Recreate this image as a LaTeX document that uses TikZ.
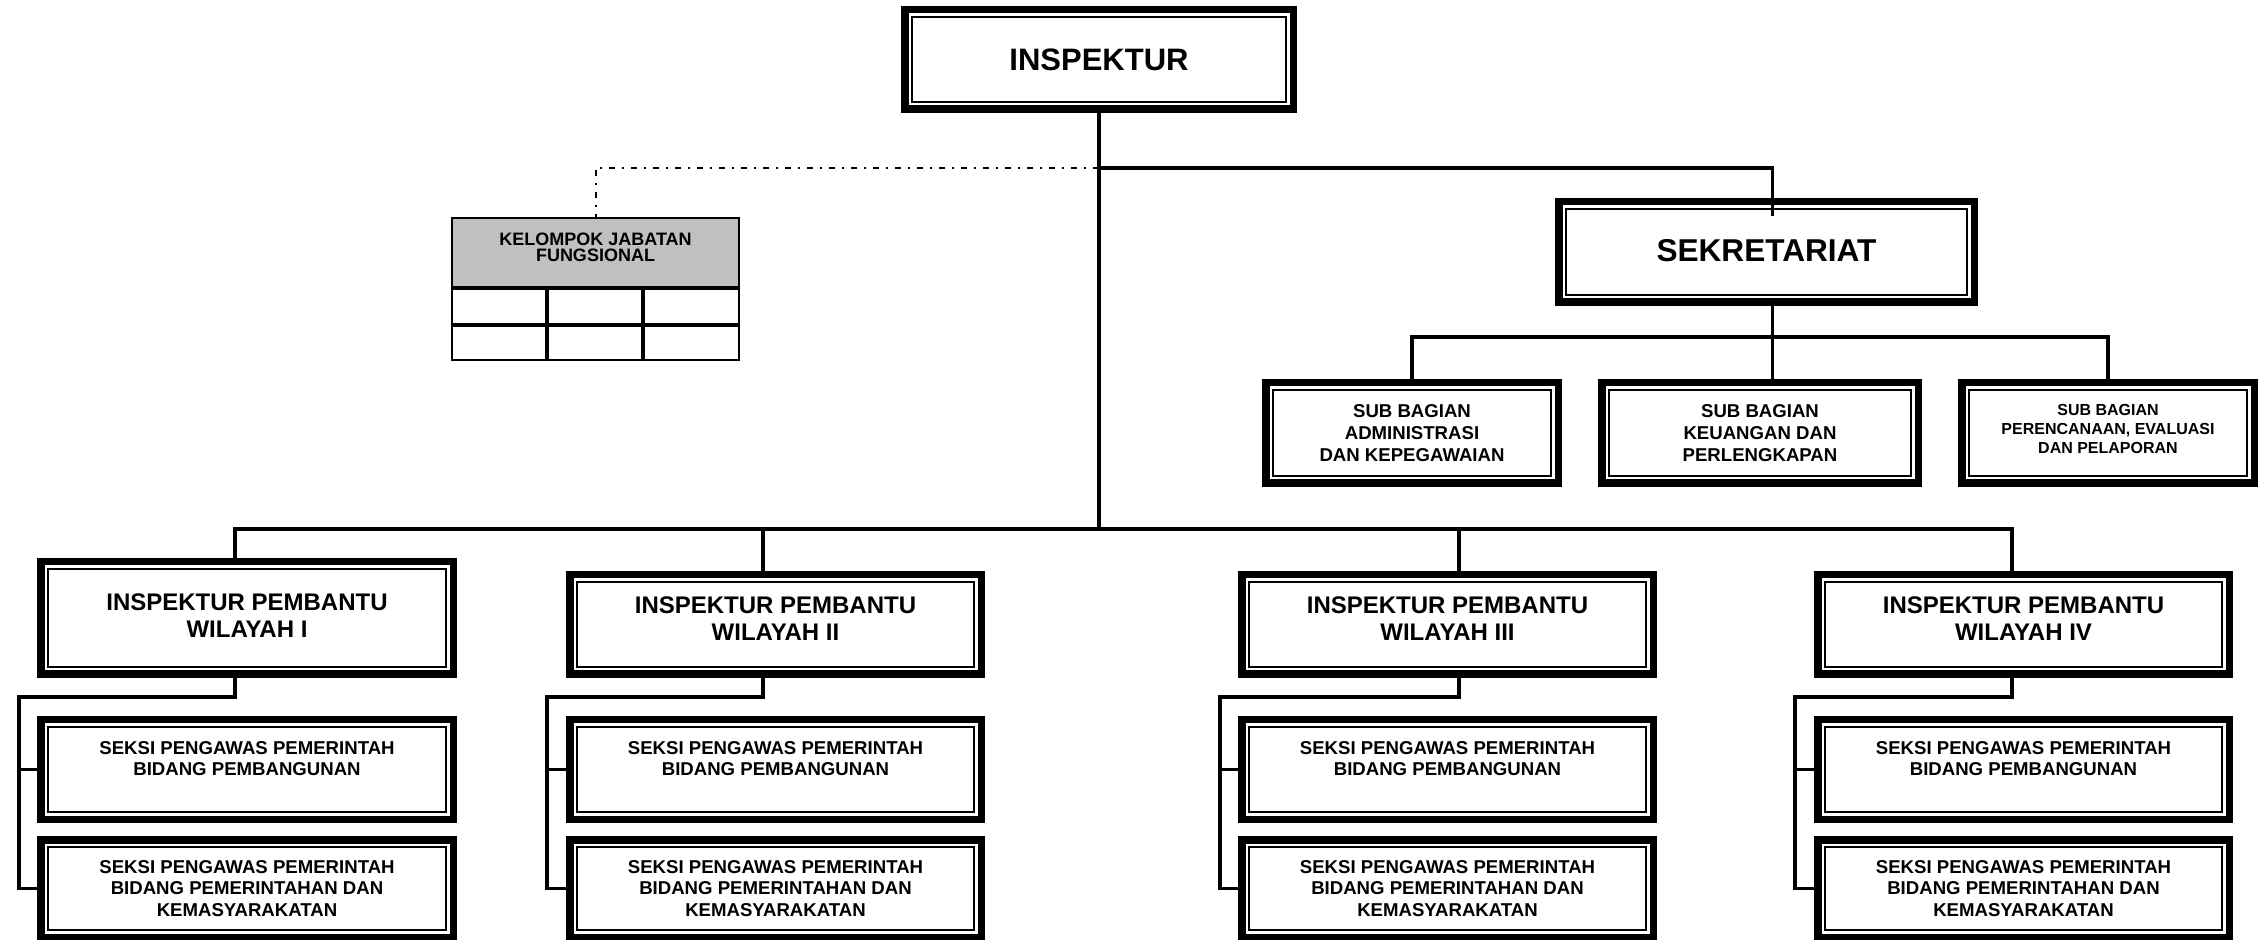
\documentclass[tikz,border=0pt]{standalone}
\usepackage{fontspec}
\setmainfont{Liberation Sans}
\usetikzlibrary{calc}
\definecolor{kjfgray}{RGB}{192,192,192}

% unit box: name, x1, y1, x2, y2 (outer edges, px), style, text
\newcommand\unitbox[7]{%
  \node[obox={#4-#2}{#5-#3},#6] (#1) at ({(#2+#4)/2},{(#3+#5)/2}) {#7};}

\begin{document}
\begin{tikzpicture}[x=0.5pt,y=-0.5pt,
  every node/.style={inner sep=0pt, outer sep=0pt, align=center},
  obox/.style 2 args={draw, line width=3.75pt,
    minimum width={(#1)*0.5pt-3.75pt}, minimum height={(#2)*0.5pt-3.75pt},
    path picture={\draw[line width=1pt]
      ([shift={(3.625pt,-3.625pt)}]path picture bounding box.north west) rectangle
      ([shift={(-3.625pt,3.625pt)}]path picture bounding box.south east);}},
  conn/.style={line width=1.6pt},
  fnlink/.style={line width=1pt, dash pattern=on 3pt off 3.5pt on 1pt off 3.5pt},
  cell/.style={draw, line width=1pt},
  raise/.style={text depth=#1},
  fTop/.style={font=\fontsize{15.5}{18}\selectfont\bfseries},
  fSek/.style={font=\fontsize{15.8}{18}\selectfont\bfseries},
  fWil/.style={font=\fontsize{12}{13.5}\selectfont\bfseries},
  fSub/.style={font=\fontsize{9.3}{10.85}\selectfont\bfseries},
  fSubS/.style={font=\fontsize{8}{9.35}\selectfont\bfseries},
  fKjf/.style={font=\fontsize{9}{8}\selectfont\bfseries}]

\fill[white] (0,0) rectangle (2266,940);
\useasboundingbox (0,0) rectangle (2266,940);

% head and secretariat
\unitbox{insp}{901}{6}{1297}{113}{fTop}{INSPEKTUR}
\unitbox{sek}{1555}{198}{1978}{306}{fSek, raise=2pt}{SEKRETARIAT}
\unitbox{sb1}{1262}{379}{1562}{487}{fSub}{SUB BAGIAN\\ADMINISTRASI\\DAN KEPEGAWAIAN}
\unitbox{sb2}{1598}{379}{1922}{487}{fSub}{SUB BAGIAN\\KEUANGAN DAN\\PERLENGKAPAN}
\unitbox{sb3}{1958}{379}{2258}{487}{fSubS, raise=4pt}{SUB BAGIAN\\PERENCANAAN, EVALUASI\\DAN PELAPORAN}

% functional group table
\foreach \c/\xc/\w in {1/499/96, 2/595/96, 3/691.5/97}{
  \node[cell, minimum width={\w*0.5pt-1pt}, minimum height={37*0.5pt-1pt}] (kjfa\c) at (\xc,306.5) {};
  \node[cell, minimum width={\w*0.5pt-1pt}, minimum height={36*0.5pt-1pt}] (kjfb\c) at (\xc,343) {};
}
\node[draw, line width=1pt, fill=kjfgray, fKjf, raise=5pt,
  minimum width={289*0.5pt-1pt}, minimum height={71*0.5pt-1pt}] (kjf) at (595.5,252.5)
  {KELOMPOK JABATAN\\FUNGSIONAL};

% regional inspectors and their sections
\unitbox{w1}{37}{558}{457}{678}{fWil, raise=2pt}{INSPEKTUR PEMBANTU\\WILAYAH I}
\unitbox{w2}{566}{571}{985}{678}{fWil, raise=6pt}{INSPEKTUR PEMBANTU\\WILAYAH II}
\unitbox{w3}{1238}{571}{1657}{678}{fWil, raise=6pt}{INSPEKTUR PEMBANTU\\WILAYAH III}
\unitbox{w4}{1814}{571}{2233}{678}{fWil, raise=6pt}{INSPEKTUR PEMBANTU\\WILAYAH IV}
\foreach \i/\xa/\xb in {1/37/457, 2/566/985, 3/1238/1657, 4/1814/2233}{
  \unitbox{pa\i}{\xa}{716}{\xb}{823}{fSub}{SEKSI PENGAWAS PEMERINTAH\\BIDANG PEMBANGUNAN\\\mbox{}}
  \unitbox{pb\i}{\xa}{836}{\xb}{941}{fSub}{SEKSI PENGAWAS PEMERINTAH\\BIDANG PEMERINTAHAN DAN\\KEMASYARAKATAN}
}

% bus levels
\coordinate (busTop) at (0,168);
\coordinate (busSub) at (0,337);
\coordinate (busW) at (0,529);
\coordinate (sekIn) at ($(sek.north)+(6,14.5)$);
\coordinate (sekOut) at ($(sek.south)+(6,0)$);

% connectors
\draw[conn] (insp.south) -- (insp.south |- busW);
\draw[conn] (insp.south |- busTop) -| (sekIn);
\draw[fnlink] (insp.south |- busTop) -| (kjf.north);
\draw[conn] (sekOut) -- (sekOut |- sb2.north);
\draw[conn] (sb1.north) |- (busSub -| sb3.north) -- (sb3.north);

\foreach \i/\dx/\rail in {1/-12/19, 2/-12.5/547, 3/11.5/1220, 4/-11.5/1795}{
  \coordinate (t\i) at ($(w\i.north)+(\dx,0)$);
  \coordinate (b\i) at ($(w\i.south)+(\dx,0)$);
  \coordinate (r\i) at (\rail,697);
  \draw[conn] (b\i) |- (r\i) |- (pb\i.west);
  \draw[conn] (r\i |- pa\i.west) -- (pa\i.west);
}
\draw[conn] (t1) |- (busW -| t4) -- (t4);
\draw[conn] (t2) -- (t2 |- busW);
\draw[conn] (t3) -- (t3 |- busW);
\end{tikzpicture}
\end{document}
